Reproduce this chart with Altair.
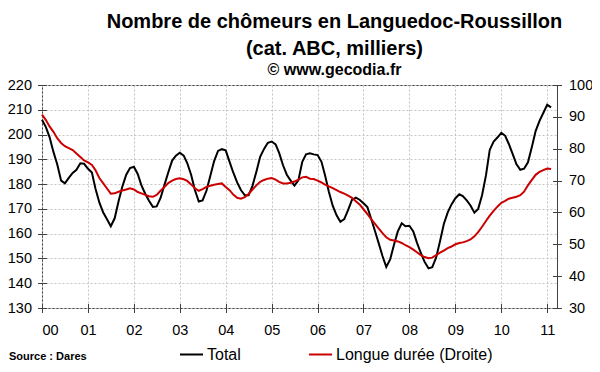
import altair as alt
import pandas as pd

FONT = "Liberation Sans"

# Monthly values, Jan 2000 .. Feb 2011 (thousands)
total = [
    206, 203, 199, 193, 188, 181.4, 180.3, 182.5, 184.5, 185.8, 188.4, 188.2,
    186.2, 184.7, 178.2, 172.6, 168.6, 165.8, 163, 166.2, 173.1, 179, 183.8, 186.5,
    187, 184, 179.6, 176.1, 173.3, 170.8, 171, 174.4, 179.7, 184.7, 189.5, 191.5,
    192.7, 191.5, 188.5, 183.8, 177.6, 173, 173.4, 177.3, 183.4, 189.3, 193.4, 194.1,
    193.6, 189, 184.7, 180.7, 177.6, 175.5, 175.5, 179.3, 185, 191, 194.2, 196.7,
    197.2, 196, 192.6, 187.6, 183.8, 181.4, 179.4, 181.5, 189, 192, 192.4, 192,
    191.7, 189, 183.6, 176.8, 171.3, 167.4, 164.8, 165.9, 169.6, 173.6, 174.5, 173.7,
    172.3, 170.7, 166.3, 161.3, 156.3, 151, 146.6, 149.6, 155.6, 160.9, 164.2, 163,
    163.2, 160.9, 156.4, 152.2, 148.6, 146, 146.5, 150.4, 157, 163.9, 168.6, 171.8,
    174.3, 175.9, 175.2, 173.4, 171.4, 168.5, 170, 175.5, 183.5, 193.8, 197.2, 198.8,
    200.7, 199.5, 196.3, 192.2, 188.1, 185.8, 186.2, 188.8, 195, 201.4, 205.5, 208.7,
    212, 211,
]
longue = [
    90.7, 89, 87, 85.3, 83.3, 81.8, 80.8, 80.2, 79.6, 78.5, 77.4, 76.3,
    75.7, 74.9, 73.3, 70.8, 69.2, 67.5, 65.9, 66, 66.5, 66.9, 67.2, 67.6,
    67.2, 66.4, 66, 65.5, 65.1, 64.9, 65.5, 66.8, 68, 69.2, 70, 70.5,
    70.7, 70.4, 69.9, 68.8, 67.6, 66.8, 67.3, 68, 68.4, 68.7, 68.9, 69.1,
    68, 67, 65.6, 64.6, 64.3, 64.8, 65.8, 67.2, 68.5, 69.6, 70.2, 70.6,
    70.8, 70.3, 69.6, 69.1, 69.1, 69.3, 69.7, 70.3, 71, 71.2, 70.6, 70.5,
    70, 69.4, 68.7, 68.2, 67.6, 67, 66.4, 65.9, 65.3, 64.6, 63.5, 62.5,
    61, 59.5, 58, 56.5, 55, 53.5, 52.2, 51.4, 51.2, 50.9, 50.4, 49.7,
    49.1, 48.3, 47.5, 46.6, 46, 45.6, 45.8, 46.6, 47.4, 48, 48.8, 49.3,
    50, 50.4, 50.6, 51, 51.5, 52.5, 53.8, 55.5, 57.3, 59, 60.5, 61.8,
    63, 63.6, 64.3, 64.6, 64.9, 65.4, 66.5, 68.5, 70.2, 71.8, 72.7, 73.3,
    73.8, 73.6,
]
series = ["Total", "Longue durée (Droite)"]
colors = ["#000000", "#cc0000"]
years = list(range(2000, 2012))
left_ticks = list(range(130, 221, 10))
right_ticks = list(range(30, 101, 10))

months = pd.date_range("2000-01-01", periods=len(total), freq="MS")
df = pd.concat([
    pd.DataFrame({"date": months, "serie": series[0], "value": total}),
    pd.DataFrame({"date": months, "serie": series[1], "value": longue}),
])

x_enc = alt.X(
    "date:T",
    title=None,
    scale=alt.Scale(domain=[alt.DateTime(year=2000, month=1, date=1),
                            alt.DateTime(year=2011, month=3, date=20)]),
    axis=alt.Axis(values=[alt.DateTime(year=y, month=1, date=1) for y in years],
                  format="%y", grid=True, offset=-4.5, tickSize=9,
                  labelPadding=11, labelFontSize=14.5),
)

color_enc = alt.Color(
    "serie:N",
    scale=alt.Scale(domain=series, range=colors),
    legend=alt.Legend(orient="none", legendX=137, legendY=257, direction="horizontal",
                      title=None, symbolType="stroke", symbolSize=529,
                      symbolStrokeWidth=2, labelFontSize=16, labelFont=FONT,
                      labelColor="#000", labelOffset=3, columnPadding=64,
                      gridAlign="none"),
)

base = alt.Chart(df)

left = base.transform_filter(alt.datum.serie == series[0]).mark_line(strokeWidth=2).encode(
    x=x_enc,
    y=alt.Y("value:Q", title=None,
            scale=alt.Scale(domain=[130, 220], nice=False, zero=False),
            axis=alt.Axis(values=left_ticks, orient="left", grid=True, offset=-4.5,
                          tickSize=9, labelPadding=6)),
    color=color_enc,
)

right = base.transform_filter(alt.datum.serie == series[1]).mark_line(strokeWidth=2).encode(
    x=x_enc,
    y=alt.Y("value:Q", title=None,
            scale=alt.Scale(domain=[30, 100], nice=False, zero=False),
            axis=alt.Axis(values=right_ticks, orient="right", grid=False, offset=-4.5,
                          tickSize=9, labelPadding=7)),
    color=color_enc,
)

source = alt.Chart(pd.DataFrame({"t": ["Source : Dares"]})).mark_text(
    align="left", baseline="middle", fontSize=11, fontWeight="bold", font=FONT, color="#000"
).encode(text="t:N", x=alt.value(-33), y=alt.value(272))

chart = alt.layer(left, right, source).resolve_scale(y="independent").properties(
    width=515,
    height=223,
    padding={"left": 34, "top": 77, "right": 35, "bottom": 56},
    autosize=alt.AutoSizeParams(type="none"),
    title=alt.TitleParams(
        text=["Nombre de chômeurs en Languedoc-Roussillon", "(cat. ABC, milliers)"],
        subtitle="© www.gecodia.fr",
        anchor="middle", frame="group", dx=35, offset=-1,
        font=FONT, fontSize=20, fontWeight="bold", color="#000", lineHeight=27,
        subtitleFont=FONT, subtitleFontSize=16, subtitleFontWeight="bold",
        subtitleColor="#000", subtitlePadding=3,
    ),
).configure_view(stroke="#404040", strokeWidth=1).configure_axis(
    labelFont=FONT, labelFontSize=14.5, labelColor="#000", tickColor="#404040",
    domain=False, gridColor="#c4c4c4", gridDash=[2, 2], gridWidth=1,
)

chart.save("out.html", embed_options={"renderer": "svg", "actions": False})
